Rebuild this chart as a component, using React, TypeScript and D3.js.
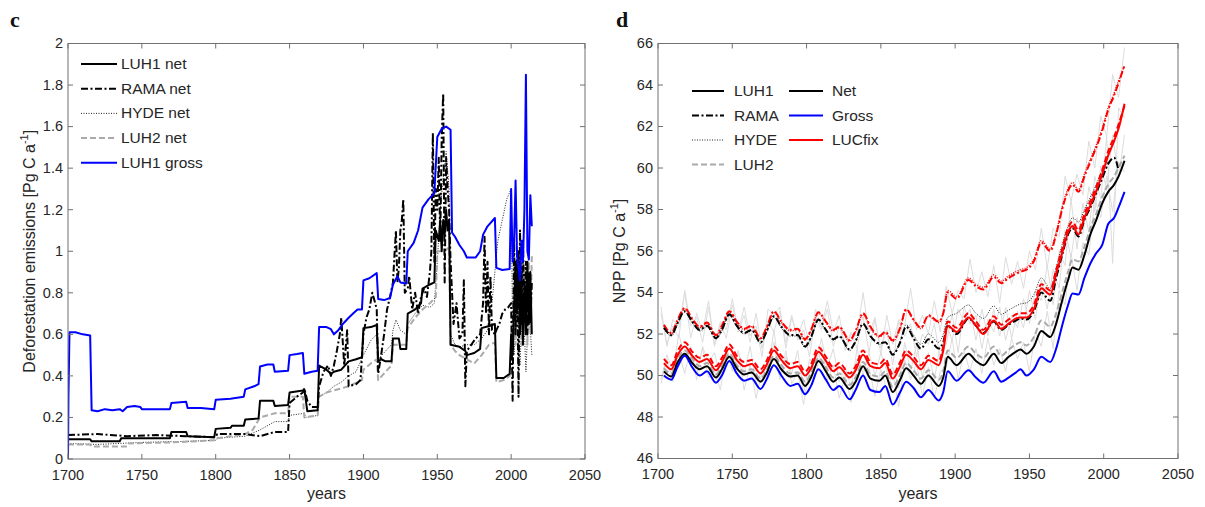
import React from 'react';
import * as d3 from 'd3';

// ---------------- Panel c: deforestation emissions (Pg C / a) ----------------
const LUH1_GROSS: [number, number][] = [
  [1700, 0.0], [1700.3, 0.3], [1701, 0.61], [1705, 0.61], [1710, 0.6], [1715, 0.595], [1716, 0.235], [1720, 0.23],
  [1725, 0.24], [1730, 0.235], [1735, 0.24], [1737, 0.23], [1740, 0.25], [1745, 0.255], [1749, 0.25], [1750, 0.24],
  [1760, 0.24], [1769, 0.24], [1770, 0.27], [1780, 0.275], [1781, 0.245], [1790, 0.245], [1799, 0.24], [1800, 0.285],
  [1810, 0.29], [1819, 0.3], [1820, 0.335], [1826, 0.35], [1829, 0.36], [1830, 0.445], [1835, 0.455], [1839, 0.455],
  [1840, 0.42], [1849, 0.425], [1850, 0.5], [1855, 0.505], [1859, 0.51], [1860, 0.41], [1865, 0.42], [1869, 0.425],
  [1870, 0.635], [1875, 0.635], [1878, 0.625], [1880, 0.6], [1883, 0.62], [1886, 0.65], [1890, 0.68], [1893, 0.7],
  [1896, 0.72], [1899, 0.72], [1900, 0.86], [1904, 0.87], [1909, 0.895], [1910, 0.77], [1914, 0.765], [1918, 0.775],
  [1920, 0.84], [1923, 0.88], [1925, 0.85], [1929, 0.845], [1930, 1.0], [1934, 1.04], [1937, 1.1], [1940, 1.21],
  [1944, 1.25], [1948, 1.28], [1950, 1.55], [1953, 1.59], [1956, 1.6], [1959, 1.585], [1960, 1.09], [1962, 1.07],
  [1965, 1.03], [1968, 1.0], [1970, 0.97], [1976, 0.97], [1979, 1.0], [1981, 1.08], [1984, 1.12], [1989, 1.16],
  [1990, 0.92], [1994, 0.91], [1999, 0.915], [2000, 1.3], [2001, 0.95], [2002, 1.05], [2003, 1.34], [2004, 0.98],
  [2006, 0.86], [2007, 1.05], [2008, 0.95], [2009, 1.2], [2010, 1.85], [2011, 1.0], [2012, 0.96], [2013, 1.27], [2014, 1.12],
];

const LUH1_NET: [number, number][] = [
  [1700, 0.095], [1715, 0.095], [1716, 0.085], [1735, 0.085], [1736, 0.1], [1769, 0.1], [1770, 0.13], [1780, 0.13],
  [1781, 0.11], [1799, 0.105], [1800, 0.145], [1810, 0.15], [1811, 0.16], [1819, 0.16], [1820, 0.19], [1829, 0.195],
  [1830, 0.28], [1839, 0.28], [1840, 0.255], [1849, 0.26], [1850, 0.32], [1859, 0.33], [1860, 0.335], [1862, 0.23],
  [1869, 0.235], [1870, 0.45], [1875, 0.43], [1878, 0.41], [1880, 0.42], [1885, 0.43], [1890, 0.47], [1895, 0.48],
  [1899, 0.49], [1900, 0.63], [1905, 0.635], [1909, 0.645], [1910, 0.47], [1912, 0.48], [1915, 0.47], [1919, 0.47],
  [1920, 0.58], [1924, 0.58], [1925, 0.53], [1929, 0.53], [1930, 0.7], [1935, 0.72], [1939, 0.75], [1940, 0.82],
  [1945, 0.84], [1948, 0.85], [1949, 1.1], [1951, 1.05], [1952, 1.15], [1953, 1.0], [1954, 1.15], [1955, 1.08],
  [1956, 1.2], [1957, 1.1], [1958, 1.15], [1959, 0.55], [1965, 0.54], [1969, 0.52], [1970, 0.5], [1975, 0.51],
  [1979, 0.53], [1980, 0.63], [1985, 0.64], [1989, 0.65], [1990, 0.39], [1995, 0.39], [1999, 0.41], [2000, 0.6],
  [2001, 0.5], [2002, 0.72], [2003, 0.95], [2004, 0.7], [2005, 1.0], [2006, 0.6], [2007, 0.9], [2008, 0.55],
  [2009, 0.85], [2010, 0.6], [2011, 0.95], [2012, 0.65], [2013, 0.9], [2014, 0.6],
];

const RAMA_NET: [number, number][] = [
  [1700, 0.115], [1720, 0.12], [1740, 0.11], [1760, 0.115], [1780, 0.11], [1800, 0.105], [1801, 0.12], [1820, 0.12],
  [1830, 0.11], [1840, 0.13], [1849, 0.13], [1850, 0.27], [1855, 0.3], [1859, 0.32], [1860, 0.34], [1862, 0.28],
  [1865, 0.25], [1869, 0.25], [1870, 0.35], [1873, 0.42], [1876, 0.45], [1878, 0.4], [1880, 0.45], [1882, 0.52],
  [1884, 0.6], [1885, 0.68], [1887, 0.45], [1889, 0.62], [1890, 0.35], [1895, 0.36], [1898, 0.38], [1900, 0.6],
  [1902, 0.68], [1904, 0.72], [1906, 0.8], [1908, 0.75], [1909, 0.72], [1910, 0.41], [1912, 0.5], [1914, 0.6],
  [1916, 0.72], [1918, 0.78], [1920, 0.85], [1921, 0.98], [1922, 1.1], [1923, 0.85], [1924, 0.92], [1925, 1.1],
  [1926, 1.15], [1927, 1.25], [1928, 0.8], [1930, 0.82], [1931, 0.88], [1933, 0.72], [1935, 0.8], [1937, 0.7],
  [1939, 0.78], [1941, 0.82], [1943, 0.78], [1945, 0.9], [1946, 1.0], [1947, 1.57], [1948, 0.95], [1949, 1.3],
  [1950, 1.2], [1951, 1.45], [1952, 1.05], [1953, 1.55], [1954, 1.76], [1955, 0.85], [1956, 1.45], [1957, 1.3],
  [1958, 1.2], [1959, 0.95], [1960, 0.8], [1961, 0.65], [1963, 0.75], [1965, 0.58], [1967, 0.6], [1968, 0.86],
  [1969, 0.35], [1970, 0.52], [1973, 0.55], [1976, 0.58], [1979, 0.6], [1981, 0.75], [1982, 1.07], [1983, 0.7],
  [1984, 0.95], [1985, 0.6], [1986, 0.88], [1987, 0.62], [1989, 0.6], [1990, 0.62], [1992, 0.65], [1994, 0.7],
  [1996, 0.72], [1998, 0.73], [2000, 0.75], [2001, 0.28], [2002, 1.05], [2003, 0.6], [2004, 1.0], [2005, 0.3],
  [2006, 1.1], [2007, 0.65], [2008, 1.05], [2009, 0.7], [2010, 0.95], [2011, 0.6], [2012, 0.9], [2013, 0.65], [2014, 0.85],
];

const HYDE_NET: [number, number][] = [
  [1700, 0.075], [1720, 0.07], [1750, 0.08], [1780, 0.085], [1800, 0.09], [1801, 0.1], [1820, 0.11], [1830, 0.14],
  [1840, 0.18], [1849, 0.18], [1850, 0.21], [1860, 0.22], [1861, 0.2], [1869, 0.21], [1870, 0.3], [1875, 0.32],
  [1880, 0.35], [1885, 0.37], [1890, 0.4], [1895, 0.42], [1900, 0.5], [1905, 0.57], [1909, 0.6], [1910, 0.48],
  [1915, 0.52], [1919, 0.55], [1920, 0.62], [1922, 0.67], [1925, 0.62], [1929, 0.6], [1930, 0.65], [1935, 0.7],
  [1940, 0.74], [1945, 0.73], [1948, 0.75], [1950, 0.95], [1952, 1.2], [1954, 1.35], [1956, 1.48], [1958, 1.3],
  [1959, 0.6], [1962, 0.55], [1965, 0.54], [1970, 0.55], [1975, 0.55], [1980, 0.58], [1984, 0.62], [1987, 0.75],
  [1989, 0.9], [1991, 1.05], [1994, 1.15], [1997, 1.25], [2000, 1.3], [2001, 0.6], [2002, 0.5], [2004, 0.75],
  [2006, 0.45], [2008, 0.8], [2010, 0.42], [2012, 0.75], [2014, 0.5],
];

const LUH2_NET: [number, number][] = [
  [1700, 0.07], [1715, 0.07], [1716, 0.06], [1740, 0.06], [1741, 0.075], [1770, 0.08], [1800, 0.09], [1801, 0.1],
  [1820, 0.12], [1825, 0.14], [1830, 0.2], [1840, 0.22], [1849, 0.22], [1850, 0.3], [1859, 0.3], [1860, 0.2],
  [1869, 0.21], [1870, 0.3], [1875, 0.32], [1880, 0.33], [1890, 0.35], [1899, 0.38], [1900, 0.43], [1905, 0.46],
  [1909, 0.48], [1910, 0.38], [1915, 0.42], [1919, 0.45], [1920, 0.55], [1925, 0.55], [1929, 0.55], [1930, 0.63],
  [1935, 0.68], [1940, 0.72], [1945, 0.75], [1949, 0.78], [1950, 1.0], [1955, 1.0], [1958, 1.02], [1959, 0.55],
  [1962, 0.52], [1965, 0.5], [1970, 0.48], [1975, 0.46], [1980, 0.5], [1985, 0.55], [1989, 0.56], [1990, 0.37],
  [1995, 0.38], [1999, 0.4], [2000, 0.55], [2002, 0.8], [2003, 0.55], [2004, 0.9], [2005, 0.5], [2006, 0.95],
  [2007, 0.55], [2008, 0.95], [2009, 0.6], [2010, 0.9], [2011, 0.55], [2012, 0.95], [2013, 0.6], [2014, 0.98],
];

// ---------------- Panel d: NPP (Pg C / a) ----------------
const NPP_YEARS = [
  1704, 1709, 1713, 1718, 1723, 1728, 1733, 1739, 1743, 1748,
  1753, 1758, 1763, 1769, 1773, 1778, 1783, 1789, 1794, 1799,
  1803, 1808, 1813, 1818, 1822, 1829, 1833, 1838, 1843, 1849,
  1853, 1858, 1863, 1867, 1872, 1877, 1882, 1889, 1892, 1895,
  1901, 1909, 1914, 1919, 1926, 1931, 1936, 1941, 1944, 1948,
  1953, 1958, 1964, 1968, 1972, 1976, 1979, 1983, 1987, 1991,
  1995, 1999, 2003, 2007, 2010, 2014,
];

const NPP_LUH1_GROSS = [
  50.0, 49.8, 50.4, 50.95, 50.4, 50.0, 50.2, 49.65, 50.0, 50.7,
  50.1, 49.75, 49.85, 49.35, 49.8, 50.5, 50.0, 49.5, 49.6, 49.1,
  49.5, 50.3, 49.8, 49.3, 49.5, 48.85, 49.3, 50.0, 49.3, 49.2,
  49.5, 48.6, 49.2, 49.7, 49.4, 48.95, 49.3, 48.8, 49.2, 50.2,
  49.75, 50.25, 49.9, 49.65, 50.2, 49.7, 49.9, 50.15, 50.3, 50.0,
  50.3, 50.9, 50.65, 51.3, 52.4, 53.4, 53.95, 53.9, 54.7, 55.4,
  55.9, 56.3, 57.3, 57.6, 58.1, 58.85,
];

const NPP_LUH1_NET = [
  50.2, 49.95, 50.6, 51.05, 50.6, 50.3, 50.45, 49.9, 50.3, 50.9,
  50.35, 50.05, 50.15, 49.7, 50.1, 50.8, 50.3, 49.95, 50.0, 49.5,
  49.9, 50.7, 50.2, 49.7, 49.9, 49.35, 49.7, 50.45, 49.85, 49.75,
  50.0, 49.2, 49.8, 50.35, 50.0, 49.6, 50.0, 49.5, 49.9, 50.9,
  50.5, 51.05, 50.7, 50.5, 51.05, 50.6, 50.9, 51.15, 51.25, 51.05,
  51.4, 52.15, 51.85, 52.5, 53.6, 54.6, 55.2, 55.1, 55.8, 56.8,
  57.5, 58.3, 58.85, 59.2, 59.6, 60.35,
];

const NPP_LUH2_NET = [
  50.35, 50.1, 50.75, 51.2, 50.8, 50.45, 50.6, 50.05, 50.45, 51.05,
  50.5, 50.2, 50.3, 49.85, 50.25, 50.95, 50.5, 50.1, 50.15, 49.7,
  50.1, 50.85, 50.4, 49.9, 50.1, 49.55, 49.9, 50.65, 50.05, 49.95,
  50.2, 49.45, 50.05, 50.6, 50.25, 49.85, 50.25, 49.8, 50.2, 51.2,
  50.85, 51.4, 51.05, 50.85, 51.4, 50.95, 51.25, 51.5, 51.6, 51.45,
  51.85, 52.65, 52.35, 53.0, 54.0, 55.0, 55.6, 55.5, 56.2, 57.1,
  57.8, 58.6, 59.2, 59.6, 60.0, 60.6,
];

const NPP_RAMA_NET = [
  52.3, 51.95, 52.5, 53.1, 52.6, 52.2, 52.4, 51.8, 52.2, 52.95,
  52.4, 52.05, 52.2, 51.6, 52.1, 52.85, 52.35, 51.95, 51.95, 51.4,
  51.85, 52.7, 52.2, 51.75, 51.9, 51.25, 51.65, 52.5, 51.9, 51.55,
  51.6, 51.0, 51.6, 52.35, 51.8, 51.3, 51.75, 51.3, 51.6, 52.4,
  52.0, 52.75, 52.4, 52.05, 52.6, 52.2, 52.45, 52.65, 52.75, 52.7,
  53.1, 54.0, 53.6, 54.7, 55.8, 56.8, 57.1, 56.7, 57.5, 58.1,
  58.8, 59.5, 60.2, 60.5, 59.9, NaN,
];

const NPP_HYDE_NET = [
  52.25, 51.9, 52.45, 53.05, 52.55, 52.15, 52.35, 51.75, 52.15, 52.9,
  52.35, 52.0, 52.15, 51.55, 52.05, 52.8, 52.3, 51.9, 51.9, 51.35,
  51.8, 52.65, 52.15, 51.7, 51.85, 51.2, 51.6, 52.45, 51.85, 51.5,
  51.6, 51.05, 51.65, 52.45, 51.95, 51.5, 52.0, 51.6, 52.0, 52.8,
  53.0, 53.4, 53.0, 52.75, 53.35, 52.95, 53.15, 53.35, 53.45, 53.5,
  53.9, 54.7, 54.2, 55.2, 56.3, 57.2, 57.6, 57.4, 58.0, 58.6,
  59.2, 59.9, 60.3, NaN, NaN, NaN,
];

const NPP_LUH1_LUCFIX = [
  50.6, 50.3, 50.95, 51.4, 50.95, 50.65, 50.8, 50.25, 50.65, 51.3,
  50.75, 50.45, 50.55, 50.1, 50.5, 51.2, 50.75, 50.35, 50.45, 50.0,
  50.35, 51.15, 50.7, 50.2, 50.4, 49.9, 50.25, 51.0, 50.45, 50.35,
  50.6, 49.85, 50.45, 51.0, 50.7, 50.3, 50.75, 50.5, 51.2, 52.4,
  52.1, 52.8, 52.4, 52.0, 52.65, 52.25, 52.5, 52.75, 52.8, 52.8,
  53.2, 54.2, 53.9, 54.9, 55.9, 56.9, 57.2, 56.8, 57.6, 58.2,
  58.9, 59.7, 60.6, 61.3, 61.9, 63.1,
];

const NPP_LUH2_LUCFIX = [
  50.8, 50.5, 51.15, 51.6, 51.15, 50.85, 51.0, 50.45, 50.85, 51.5,
  50.95, 50.65, 50.75, 50.3, 50.7, 51.4, 50.95, 50.55, 50.65, 50.2,
  50.55, 51.35, 50.9, 50.4, 50.6, 50.1, 50.45, 51.2, 50.65, 50.55,
  50.8, 50.05, 50.65, 51.2, 50.9, 50.5, 50.95, 50.7, 51.4, 52.6,
  52.3, 53.0, 52.6, 52.2, 52.85, 52.45, 52.7, 52.95, 53.0, 53.0,
  53.4, 54.4, 54.1, 55.1, 56.1, 57.1, 57.4, 57.0, 57.8, 58.4,
  59.1, 59.9, 60.8, 61.5, 62.1, 63.0,
];

const NPP_RAMA_LUCFIX = [
  52.45, 52.05, 52.65, 53.25, 52.75, 52.35, 52.55, 51.95, 52.4, 53.1,
  52.6, 52.25, 52.4, 51.8, 52.3, 53.1, 52.6, 52.2, 52.25, 51.75,
  52.2, 53.05, 52.6, 52.2, 52.35, 51.7, 52.15, 53.0, 52.35, 51.9,
  52.1, 51.7, 52.3, 53.2, 52.7, 52.3, 52.9, 52.6, 53.0, 54.0,
  53.7, 54.6, 54.3, 54.15, 54.75, 54.45, 54.7, 54.9, 55.0, 55.1,
  55.5, 56.4, 56.0, 56.8, 58.0, 58.9, 59.2, 58.85, 59.6, 60.3,
  61.0, 61.8, 62.8, 63.5, 64.1, 64.95,
];

const NPP_HYDE_LUCFIX = [
  52.4, 52.0, 52.6, 53.2, 52.7, 52.3, 52.5, 51.9, 52.35, 53.05,
  52.55, 52.2, 52.35, 51.75, 52.25, 53.05, 52.55, 52.15, 52.2, 51.7,
  52.15, 53.0, 52.55, 52.15, 52.3, 51.65, 52.1, 52.95, 52.3, 51.85,
  52.05, 51.65, 52.25, 53.15, 52.65, 52.25, 52.85, 52.55, 53.0, 54.1,
  53.8, 54.7, 54.4, 54.25, 54.85, 54.55, 54.8, 55.0, 55.1, 55.2,
  55.6, 56.5, 56.1, 56.9, 58.1, 59.0, 59.3, 58.95, 59.7, 60.4,
  61.1, 61.9, 62.9, 63.6, 64.2, 64.9,
];

// individual annual runs (thin grey), sampled every 4 years from 1702
const GREY_YEARS = [
  1702, 1706, 1710, 1714, 1718, 1722, 1726, 1730, 1734, 1738, 1742, 1746, 1750, 1754, 1758, 1762, 1766, 1770, 1774, 1778,
  1782, 1786, 1790, 1794, 1798, 1802, 1806, 1810, 1814, 1818, 1822, 1826, 1830, 1834, 1838, 1842, 1846, 1850, 1854, 1858,
  1862, 1866, 1870, 1874, 1878, 1882, 1886, 1890, 1894, 1898, 1902, 1906, 1910, 1914, 1918, 1922, 1926, 1930, 1934, 1938,
  1942, 1946, 1950, 1954, 1958, 1962, 1966, 1970, 1974, 1978, 1982, 1986, 1990, 1994, 1998, 2002, 2006, 2010, 2014,
];
const GREY_RUN_1 = [
  53.3, 51.4, 52.7, 52.3, 54.0, 51.8, 53.0, 52.1, 53.6, 51.4, 52.6, 52.2, 53.7, 52.1, 53.3, 51.9, 52.4, 50.9, 53.2, 52.9,
  53.3, 51.3, 52.8, 51.9, 52.7, 51.4, 53.2, 52.3, 53.6, 52.1, 52.9, 51.2, 52.0, 51.9, 54.0, 52.0, 52.8, 51.0, 52.9, 51.5,
  52.7, 52.4, 54.2, 52.2, 52.9, 52.0, 53.6, 52.1, 54.3, 53.0, 54.1, 53.7, 55.6, 54.0, 55.0, 53.8, 55.3, 53.5, 55.7, 54.4,
  55.5, 54.2, 56.0, 55.1, 57.1, 55.2, 57.1, 56.7, 59.6, 58.4, 59.7, 58.7, 61.3, 60.0, 62.5, 61.5, 64.5, 63.4, 65.8,
];
const GREY_RUN_2 = [
  53.0, 51.5, 52.4, 51.8, 54.1, 52.4, 52.8, 51.6, 53.3, 51.5, 52.5, 51.8, 53.4, 52.1, 52.9, 51.6, 53.0, 51.3, 52.6, 52.1,
  53.1, 51.6, 52.9, 51.7, 52.2, 50.9, 52.8, 52.2, 53.2, 51.4, 52.4, 51.4, 52.1, 51.3, 52.9, 51.1, 52.7, 51.3, 52.2, 50.5,
  52.6, 51.9, 52.5, 50.9, 52.0, 51.5, 52.5, 50.8, 52.5, 51.7, 53.2, 52.6, 53.2, 51.7, 53.2, 51.9, 53.2, 51.9, 53.3, 51.8,
  53.1, 52.3, 54.1, 52.7, 54.6, 53.2, 55.1, 54.2, 57.0, 55.7, 57.6, 56.8, 59.1, 57.9, 60.1, 59.0, 61.6, 59.5, 61.6,
];
const GREY_RUN_3 = [
  49.6, 50.8, 49.7, 51.1, 50.1, 51.3, 50.1, 51.3, 49.9, 50.2, 49.3, 51.3, 50.5, 51.2, 49.3, 50.5, 48.9, 50.2, 50.0, 51.6,
  49.8, 51.2, 49.6, 50.2, 48.6, 50.4, 50.0, 51.4, 49.8, 50.5, 48.9, 50.0, 48.7, 50.8, 50.3, 50.4, 49.0, 50.3, 49.3, 50.2,
  48.5, 50.8, 49.8, 50.6, 49.0, 50.4, 48.9, 50.2, 50.4, 51.8, 49.8, 51.2, 50.2, 51.3, 50.1, 51.8, 50.5, 51.3, 50.2, 51.8,
  50.8, 51.6, 50.2, 52.1, 51.4, 53.1, 51.3, 54.1, 53.4, 55.9, 54.1, 56.4, 55.8, 58.5, 57.6, 59.6, 57.9, 60.3, 59.8,
];
const GREY_RUN_4 = [
  49.8, 51.0, 50.2, 52.0, 50.9, 51.4, 49.8, 51.4, 50.6, 51.1, 49.9, 51.4, 50.2, 51.2, 50.1, 51.4, 49.6, 50.3, 50.1, 52.2,
  50.0, 50.9, 50.1, 51.2, 49.1, 50.8, 50.4, 51.8, 50.4, 51.3, 49.7, 50.4, 49.4, 51.3, 50.0, 51.1, 50.0, 51.1, 50.2, 50.4,
  49.4, 51.6, 50.2, 51.5, 49.9, 51.1, 49.8, 51.5, 51.5, 53.0, 51.1, 53.3, 52.5, 52.9, 51.3, 52.7, 52.1, 53.3, 51.7, 52.9,
  52.3, 53.7, 52.5, 54.1, 53.6, 55.3, 53.4, 56.0, 55.3, 58.5, 56.1, 58.3, 56.9, 59.6, 58.5, 61.5, 55.4, 62.9, 62.4,
];

const X_TICKS = [1700, 1750, 1800, 1850, 1900, 1950, 2000, 2050];
const C_Y_TICKS = [0, 0.2, 0.4, 0.6, 0.8, 1, 1.2, 1.4, 1.6, 1.8, 2];
const D_Y_TICKS = [46, 48, 50, 52, 54, 56, 58, 60, 62, 64, 66];

const C_LEGEND = ['LUH1 net', 'RAMA net', 'HYDE net', 'LUH2 net', 'LUH1 gross'];
const D_LEGEND_DATASETS = ['LUH1', 'RAMA', 'HYDE', 'LUH2'];
const D_LEGEND_KINDS = ['Net', 'Gross', 'LUCfix'];

// ---------------- styles ----------------
const FONT = "'Liberation Sans', Arial, Helvetica, sans-serif";
const AXIS_COLOR = '#707070';
const TEXT_COLOR = '#262626';
const DASHDOT = '7,2.5,2,2.5';
const DOTTED = '1,1.5';
const DASHED = '6,3';

type Style = { stroke: string; width: number; dash?: string };
const S_SOLID: Style = { stroke: '#000', width: 2 };
const S_DASHDOT: Style = { stroke: '#000', width: 2, dash: DASHDOT };
const S_DOTTED: Style = { stroke: '#222', width: 1, dash: DOTTED };
const S_DASHED: Style = { stroke: '#aaaaaa', width: 2, dash: DASHED };
const S_BLUE: Style = { stroke: '#0000ff', width: 2 };
const S_RED: Style = { stroke: '#ff0000', width: 2 };

const cx = d3.scaleLinear().domain([1700, 2050]).range([68, 585]);
const cy = d3.scaleLinear().domain([0, 2]).range([459, 43.5]);
const dx = d3.scaleLinear().domain([1700, 2050]).range([658, 1178]);
const dy = d3.scaleLinear().domain([46, 66]).range([458.5, 43.5]);

function Frame({ x, y, yTicks, fmt }: { x: d3.ScaleLinear<number, number>; y: d3.ScaleLinear<number, number>; yTicks: number[]; fmt: (v: number) => string }) {
  const [x0, x1] = x.range();
  const [y0, y1] = y.range();
  const tl = 5;
  return (
    <g>
      <rect x={x0} y={y1} width={x1 - x0} height={y0 - y1} fill="none" stroke={AXIS_COLOR} strokeWidth={1} />
      {X_TICKS.map((t) => (
        <g key={'x' + t}>
          <line x1={x(t)} x2={x(t)} y1={y0} y2={y0 - tl} stroke={AXIS_COLOR} />
          <line x1={x(t)} x2={x(t)} y1={y1} y2={y1 + tl} stroke={AXIS_COLOR} />
          <text x={x(t)} y={y0 + 17} fontSize={14.5} fontFamily={FONT} fill={TEXT_COLOR} textAnchor="middle" dominantBaseline="middle">{t}</text>
        </g>
      ))}
      {yTicks.map((t) => (
        <g key={'y' + t}>
          <line x1={x0} x2={x0 + tl} y1={y(t)} y2={y(t)} stroke={AXIS_COLOR} />
          <line x1={x1} x2={x1 - tl} y1={y(t)} y2={y(t)} stroke={AXIS_COLOR} />
          <text x={x0 - 5} y={y(t) + 1} fontSize={14.5} fontFamily={FONT} fill={TEXT_COLOR} textAnchor="end" dominantBaseline="middle">{fmt(t)}</text>
        </g>
      ))}
      <text x={(x0 + x1) / 2} y={495} fontSize={16} fontFamily={FONT} fill={TEXT_COLOR} textAnchor="middle" dominantBaseline="middle">years</text>
    </g>
  );
}

function Path({ d, s, clip }: { d: string | null; s: Style; clip: string }) {
  return <path d={d || ''} fill="none" stroke={s.stroke} strokeWidth={s.width} strokeDasharray={s.dash} strokeLinejoin="round" clipPath={`url(#${clip})`} />;
}

export default function App() {
  const lineC = d3.line<[number, number]>().x((p) => cx(p[0])).y((p) => cy(p[1]));
  const lineD = d3
    .line<number>()
    .defined((v) => !isNaN(v))
    .curve(d3.curveMonotoneX);
  const nppPath = (vals: number[]) => lineD.x((_, i) => dx(NPP_YEARS[i])).y((v) => dy(v))(vals);
  const greyLine = d3.line<number>().x((_, i) => dx(GREY_YEARS[i])).y((v) => dy(v));

  const cLegendStyles = [S_SOLID, S_DASHDOT, S_DOTTED, S_DASHED, S_BLUE];
  const dDatasetStyles = [S_SOLID, S_DASHDOT, S_DOTTED, S_DASHED];
  const dKindStyles = [S_SOLID, S_BLUE, S_RED];

  const [cl, cr] = cx.range();
  const [cb, ct] = cy.range();
  const [dl, dr] = dx.range();
  const [db, dt] = dy.range();

  return (
    <svg width={1205} height={507} style={{ position: 'absolute', left: 0, top: 0, background: '#fff' }}>
      <defs>
        <clipPath id="clipC"><rect x={cl} y={ct} width={cr - cl} height={cb - ct} /></clipPath>
        <clipPath id="clipD"><rect x={dl} y={dt} width={dr - dl} height={db - dt} /></clipPath>
      </defs>
      <rect x={0} y={0} width={1205} height={507} fill="#fff" />

      {/* ---------- panel c ---------- */}
      <text x={10} y={27} fontSize={22} fontFamily="'Liberation Serif', 'Times New Roman', serif" fontWeight="bold" fill="#111">c</text>
      <Path d={lineC(HYDE_NET)} s={S_DOTTED} clip="clipC" />
      <Path d={lineC(LUH2_NET)} s={S_DASHED} clip="clipC" />
      <Path d={lineC(LUH1_NET)} s={S_SOLID} clip="clipC" />
      <Path d={lineC(RAMA_NET)} s={S_DASHDOT} clip="clipC" />
      <Path d={lineC(LUH1_GROSS)} s={S_BLUE} clip="clipC" />
      <Frame x={cx} y={cy} yTicks={C_Y_TICKS} fmt={(v) => String(+v.toFixed(1))} />
      <text transform={`translate(31,${(cb + ct) / 2}) rotate(-90)`} fontSize={16} fontFamily={FONT} fill={TEXT_COLOR} textAnchor="middle" dominantBaseline="middle">
        Deforestation emissions [Pg C a<tspan dy={-6} fontSize={11}>-1</tspan><tspan dy={6}>]</tspan>
      </text>
      {C_LEGEND.map((name, i) => {
        const yy = 64 + i * 24.7;
        const s = cLegendStyles[i];
        return (
          <g key={name}>
            <line x1={81} x2={117} y1={yy} y2={yy} stroke={s.stroke} strokeWidth={s.width} strokeDasharray={s.dash} />
            <text x={121} y={yy + 1} fontSize={15.5} fontFamily={FONT} fill={TEXT_COLOR} dominantBaseline="middle">{name}</text>
          </g>
        );
      })}

      {/* ---------- panel d ---------- */}
      <text x={616} y={27} fontSize={22} fontFamily="'Liberation Serif', 'Times New Roman', serif" fontWeight="bold" fill="#111">d</text>
      {[GREY_RUN_1, GREY_RUN_2, GREY_RUN_3, GREY_RUN_4].map((g, i) => (
        <path key={'g' + i} d={greyLine(g) || ''} fill="none" stroke="#dcdcdc" strokeWidth={1} clipPath="url(#clipD)" />
      ))}
      <Path d={nppPath(NPP_HYDE_LUCFIX)} s={{ stroke: '#ff0000', width: 1.5, dash: DOTTED }} clip="clipD" />
      <Path d={nppPath(NPP_RAMA_LUCFIX)} s={{ stroke: '#ff0000', width: 2, dash: DASHDOT }} clip="clipD" />
      <Path d={nppPath(NPP_HYDE_NET)} s={S_DOTTED} clip="clipD" />
      <Path d={nppPath(NPP_RAMA_NET)} s={S_DASHDOT} clip="clipD" />
      <Path d={nppPath(NPP_LUH2_NET)} s={S_DASHED} clip="clipD" />
      <Path d={nppPath(NPP_LUH2_LUCFIX)} s={{ stroke: '#ff0000', width: 2, dash: DASHED }} clip="clipD" />
      <Path d={nppPath(NPP_LUH1_LUCFIX)} s={S_RED} clip="clipD" />
      <Path d={nppPath(NPP_LUH1_NET)} s={S_SOLID} clip="clipD" />
      <Path d={nppPath(NPP_LUH1_GROSS)} s={S_BLUE} clip="clipD" />
      <Frame x={dx} y={dy} yTicks={D_Y_TICKS} fmt={(v) => String(v)} />
      <text transform={`translate(621,${(db + dt) / 2}) rotate(-90)`} fontSize={16} fontFamily={FONT} fill={TEXT_COLOR} textAnchor="middle" dominantBaseline="middle">
        NPP [Pg C a<tspan dy={-6} fontSize={11}>-1</tspan><tspan dy={6}>]</tspan>
      </text>
      {D_LEGEND_DATASETS.map((name, i) => {
        const yy = 91 + i * 24.5;
        const s = dDatasetStyles[i];
        return (
          <g key={name}>
            <line x1={692} x2={724} y1={yy} y2={yy} stroke={s.stroke} strokeWidth={s.width} strokeDasharray={s.dash} />
            <text x={734} y={yy + 1} fontSize={15.5} fontFamily={FONT} fill={TEXT_COLOR} dominantBaseline="middle">{name}</text>
          </g>
        );
      })}
      {D_LEGEND_KINDS.map((name, i) => {
        const yy = 91 + i * 24.5;
        const s = dKindStyles[i];
        return (
          <g key={name}>
            <line x1={789} x2={823} y1={yy} y2={yy} stroke={s.stroke} strokeWidth={s.width} strokeDasharray={s.dash} />
            <text x={832} y={yy + 1} fontSize={15.5} fontFamily={FONT} fill={TEXT_COLOR} dominantBaseline="middle">{name}</text>
          </g>
        );
      })}
    </svg>
  );
}
